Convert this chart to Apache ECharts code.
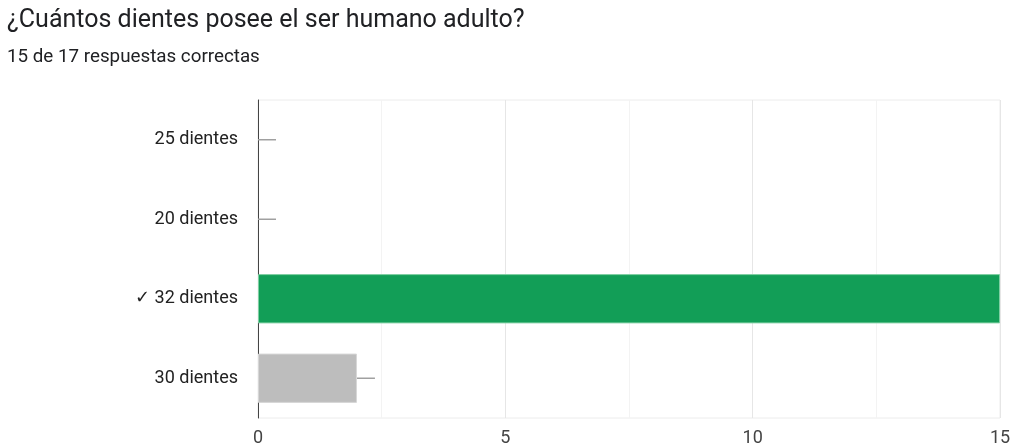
<!DOCTYPE html>
<html>
<head>
<meta charset="utf-8">
<script src="https://cdn.jsdelivr.net/npm/echarts@6/dist/echarts.min.js"></script>
<style>
  html, body { margin: 0; padding: 0; background: #fff; }
  #chart { width: 1015px; height: 448px; }
</style>
</head>
<body>
<div id="chart"></div>
<script>
// datos de la pregunta
const categorias = ['25 dientes', '20 dientes', '✓ 32 dientes', '30 dientes'];
const respuestas = [0, 0, 15, 2];
const colores = ['#bdbdbd', '#bdbdbd', '#129e57', '#bdbdbd'];
const ticksX = [0, 5, 10, 15];

const chart = echarts.init(document.getElementById('chart'));

const option = {
    backgroundColor: '#fff',
    animation: false,
    textStyle: { fontFamily: 'Roboto, Arial, sans-serif' },
    title: {
        text: '¿Cuántos dientes posee el ser humano adulto?',
        subtext: '15 de 17 respuestas correctas',
        left: 7,
        top: 8,
        padding: 0,
        itemGap: 15,
        textStyle: { fontSize: 25, fontWeight: 'normal', color: '#202124' },
        subtextStyle: { fontSize: 18.8, color: '#202124' }
    },
    grid: {
        left: 258,
        right: 15,
        top: 100,
        bottom: 30,
        show: true,
        borderColor: '#ececec',
        borderWidth: 1
    },
    xAxis: {
        type: 'value',
        min: ticksX[0],
        max: ticksX[ticksX.length - 1],
        interval: 5,
        axisLine: { show: false },
        axisTick: { show: false },
        axisLabel: { color: '#444', fontSize: 18, margin: 11 },
        splitLine: { lineStyle: { color: '#e6e6e6', width: 1 } },
        minorTick: { show: false, splitNumber: 2 },
        minorSplitLine: { show: true, lineStyle: { color: '#f3f3f3', width: 1 } }
    },
    yAxis: {
        type: 'category',
        data: categorias,
        inverse: true,
        axisLine: { show: true, onZero: false, lineStyle: { color: '#444', width: 1 } },
        axisTick: { show: false },
        axisLabel: { color: '#222', fontSize: 18, margin: 20 }
    },
    series: [
        {
            type: 'bar',
            barWidth: '62%',
            data: respuestas.map((v, i) => ({
                value: v,
                itemStyle: { color: colores[i], borderColor: i === 2 ? '#7fcfa3' : '#d6d6d6', borderWidth: v > 0 ? 1 : 0 }
            }))
        },
        {
            // pequeña línea al final de cada barra
            type: 'custom',
            clip: true,
            z: 1,
            data: respuestas.map((v, i) => [v, i]),
            renderItem: function (params, api) {
                const p = api.coord([api.value(0), api.value(1)]);
                return {
                    type: 'line',
                    shape: { x1: p[0], y1: p[1], x2: p[0] + 18, y2: p[1] },
                    style: { stroke: '#a0a0a0', lineWidth: 1.5 }
                };
            }
        }
    ]
};

chart.setOption(option);
</script>
</body>
</html>
